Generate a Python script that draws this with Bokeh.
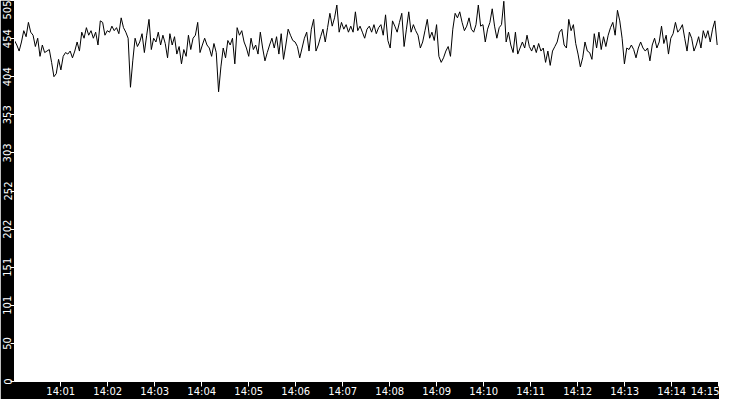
import numpy as np
import pandas as pd
from bokeh.plotting import figure
from bokeh.models import Range1d, FixedTicker
from bokeh.embed import file_html
from bokeh.resources import INLINE

# ---- data (~3 s per point) ----
seg1 = [452, 446, 438, 450, 465, 457, 476, 463, 459, 444, 455, 431, 446, 436, 438, 440, 423, 404, 408, 427,
        413, 431, 436, 434, 438, 429, 438, 450, 438, 463, 455, 469, 459, 465, 455, 463, 446, 478]
seg2 = [476, 459, 465, 463, 471, 465, 469, 461, 482, 469, 463, 455, 390, 425, 455, 444, 450, 461, 436, 459,
        480, 440, 455, 450, 463, 446, 459, 448, 429, 461, 446, 457, 434, 444, 421, 440, 431, 459]
seg3 = [440, 455, 459, 476, 436, 446, 455, 446, 442, 431, 448, 436, 384, 417, 442, 429, 452, 446, 455, 421,
        469, 459, 465, 450, 442, 431, 455, 440, 446, 434, 463, 442, 425, 436, 446, 455, 442, 457]
seg4 = [434, 461, 427, 446, 467, 459, 452, 450, 444, 429, 442, 455, 463, 438, 467, 480, 438, 446, 457, 467,
        450, 469, 488, 471, 482, 499, 463, 476, 467, 473, 463, 471, 463, 490, 465, 471, 463, 455]
seg5 = [467, 471, 463, 473, 461, 469, 473, 459, 486, 452, 442, 478, 471, 463, 476, 488, 444, 467, 490, 463,
        473, 465, 459, 442, 450, 465, 480, 455, 463, 452, 473, 431, 423, 429, 438, 444, 431, 467]
seg6 = [488, 482, 490, 476, 465, 471, 482, 467, 463, 473, 499, 471, 473, 450, 467, 476, 494, 471, 455, 469,
        473, 504, 450, 463, 446, 436, 463, 434, 442, 450, 442, 459, 444, 438, 446, 436, 448, 438]
seg7 = [442, 423, 438, 419, 438, 444, 450, 463, 467, 446, 442, 480, 465, 473, 448, 434, 417, 429, 450, 438,
        436, 427, 461, 442, 463, 440, 457, 444, 459, 469, 476, 459, 492, 478, 455, 421, 442, 440]
seg8 = [446, 440, 429, 442, 450, 442, 438, 442, 425, 446, 455, 442, 450, 471, 448, 459, 434, 455, 461, 476,
        463, 467, 473, 455, 438, 463, 455, 438, 446, 457, 442, 465, 455, 465, 450, 467, 478, 446]

values = seg1 + seg2 + seg3 + seg4 + seg5 + seg6 + seg7 + seg8

day = "2024-01-01"
t_start = "14:00:01"
t_end = "14:15:01"
x_tick_labels = ["14:01", "14:02", "14:03", "14:04", "14:05", "14:06", "14:07", "14:08",
                 "14:09", "14:10", "14:11", "14:12", "14:13", "14:14", "14:15"]
y_max = 505
y_tick_labels = ["0", "50", "101", "151", "202", "252", "303", "353", "404", "454", "505"]

# ---- build ----
def ms(ts):
    return pd.Timestamp(ts).value / 1e6

start_ms = ms(f"{day} {t_start}")
end_ms = ms(f"{day} {t_end}")
n = len(values)
times = pd.Timestamp(f"{day} {t_start}") + pd.to_timedelta(np.arange(n) * ((end_ms - start_ms) / 1000.0 / n), unit="s")

p = figure(width=719, height=399, x_axis_type="datetime", output_backend="svg", toolbar_location=None,
           x_range=Range1d(start_ms, end_ms), y_range=Range1d(0, y_max),
           min_border_left=0, min_border_right=0, min_border_top=0, min_border_bottom=0)

p.line(times, values, line_color="black", line_width=1)

x_ticks = [ms(f"{day} {lab}") for lab in x_tick_labels]
p.xaxis.ticker = FixedTicker(ticks=x_ticks)
p.xaxis.major_label_overrides = {t: lab for t, lab in zip(x_ticks, x_tick_labels)}

y_ticks = [y_max * i / (len(y_tick_labels) - 1) for i in range(len(y_tick_labels))]
p.yaxis.ticker = FixedTicker(ticks=y_ticks)
p.yaxis.major_label_overrides = {t: lab for t, lab in zip(y_ticks, y_tick_labels)}
p.yaxis.major_label_orientation = "vertical"

for ax in (p.xaxis, p.yaxis):
    ax.axis_line_color = "white"
    ax.major_tick_line_color = "white"
    ax.minor_tick_line_color = None
    ax.major_tick_in = 0
    ax.major_label_text_color = "white"
    ax.major_label_text_font = "DejaVu Sans"
    ax.major_label_text_font_size = "10px"
p.xaxis.major_tick_out = 5
p.yaxis.major_tick_out = 4
p.xaxis.major_label_standoff = -1
p.yaxis.major_label_standoff = -1

p.grid.grid_line_color = None
p.background_fill_color = "white"
p.border_fill_color = "black"
p.outline_line_color = None

open("out.html", "w").write(file_html(p, INLINE))
